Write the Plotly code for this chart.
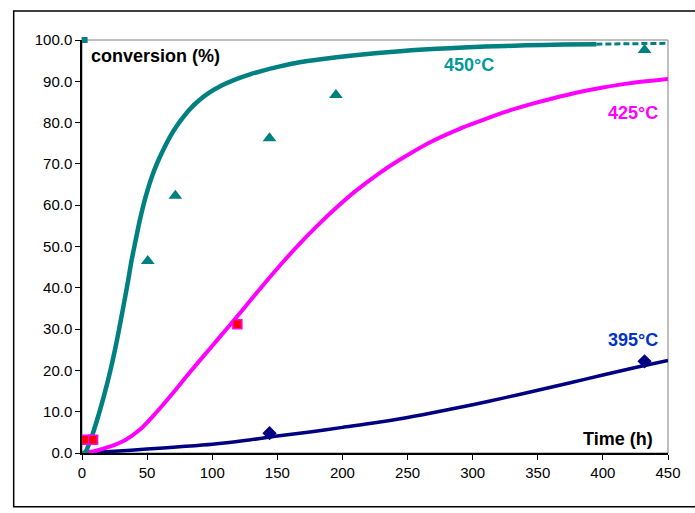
import plotly.graph_objects as go

# Model curves (conversion %, vs time in hours)
t_450 = [0, 2, 7, 13, 17, 21.8, 25, 28.2, 31.5, 35, 38, 41, 44, 47, 50, 54, 58, 63, 68, 72, 77, 83, 90, 98, 108, 119, 129, 139, 152, 167, 185, 206, 225, 244, 262, 282, 310, 341, 370, 395]
c_450 = [0, 0, 3.5, 9.5, 14, 20, 24.5, 29.5, 35, 41, 46.5, 51.2, 55.8, 59.8, 63.3, 67.2, 70.4, 73.8, 76.8, 78.8, 81.0, 83.3, 85.4, 87.3, 89.1, 90.6, 91.7, 92.6, 93.6, 94.6, 95.4, 96.2, 96.8, 97.3, 97.7, 98.0, 98.4, 98.7, 98.9, 99.0]
t_450_tail = [395, 420, 450]
c_450_tail = [99.0, 99.1, 99.2]

t_425 = [0, 10, 20, 33, 45, 57, 70, 83, 98, 112, 125, 140, 152, 164, 180, 195, 210, 229, 244, 267, 290, 305, 325, 344, 362, 382, 400, 420, 452]
c_425 = [0, 0.5, 1.4, 3.1, 5.8, 9.8, 14.6, 19.6, 25.2, 30.4, 35.3, 41.0, 45.4, 49.6, 54.8, 59.3, 63.4, 67.9, 71.0, 75.2, 78.5, 80.3, 82.6, 84.4, 85.9, 87.4, 88.5, 89.5, 90.6]

t_395 = [0, 25, 50, 75, 100, 125, 150, 175, 200, 225, 250, 275, 300, 325, 350, 375, 400, 425, 450]
c_395 = [0, 0.45, 0.95, 1.5, 2.1, 3.0, 4.1, 5.1, 6.2, 7.3, 8.6, 10.1, 11.7, 13.4, 15.2, 17.0, 18.9, 20.7, 22.4]

# Measured points
t_450_pts = [50.5, 71.7, 144, 195, 432]
c_450_pts = [46.5, 62.3, 76.2, 86.7, 97.6]
t_450_top = [2]
c_450_top = [100]
t_425_pts = [3, 8.5, 119.3]
c_425_pts = [3.2, 3.2, 31.2]
t_395_pts = [144, 432]
c_395_pts = [4.8, 22.2]

x_ticks = [0, 50, 100, 150, 200, 250, 300, 350, 400, 450]
y_ticks = [0, 10, 20, 30, 40, 50, 60, 70, 80, 90, 100]

TEAL = "#008080"
MAGENTA = "#FF00FF"
NAVY = "#000080"

fig = go.Figure()

fig.add_trace(go.Scatter(x=t_395, y=c_395, mode="lines",
                         line=dict(color=NAVY, width=3.5, shape="spline", smoothing=0.8),
                         showlegend=False))
fig.add_trace(go.Scatter(x=t_425, y=c_425, mode="lines",
                         line=dict(color=MAGENTA, width=4, shape="spline", smoothing=0.8),
                         showlegend=False))
fig.add_trace(go.Scatter(x=t_450, y=c_450, mode="lines",
                         line=dict(color=TEAL, width=4.5, shape="spline", smoothing=0.8),
                         showlegend=False))
fig.add_trace(go.Scatter(x=t_450_tail, y=c_450_tail, mode="lines",
                         line=dict(color=TEAL, width=3, dash="6px,3px"), showlegend=False))

fig.add_trace(go.Scatter(x=t_450_pts, y=c_450_pts, mode="markers",
                         marker=dict(symbol="triangle-up", size=12, color=TEAL), showlegend=False))
fig.add_trace(go.Scatter(x=t_450_top, y=c_450_top, mode="markers",
                         marker=dict(symbol="square", size=6, color=TEAL), showlegend=False,
                         cliponaxis=False))
fig.add_trace(go.Scatter(x=t_425_pts, y=c_425_pts, mode="markers",
                         marker=dict(symbol="square", size=9, color="#FF0000",
                                     line=dict(color=MAGENTA, width=1.5)), showlegend=False))
fig.add_trace(go.Scatter(x=t_395_pts, y=c_395_pts, mode="markers",
                         marker=dict(symbol="diamond", size=11, color=NAVY), showlegend=False))

FONT = "Liberation Sans, Arial, sans-serif"
label_font = dict(family=FONT, size=18)

annotations = [
    dict(x=0.012, y=0.962, xref="paper", yref="paper", text="<b>conversion (%)</b>",
         showarrow=False, xanchor="left", yanchor="middle", font=dict(label_font, color="#000000")),
    dict(x=0.977, y=0.034, xref="paper", yref="paper", text="<b>Time (h)</b>",
         showarrow=False, xanchor="right", yanchor="middle", font=dict(label_font, color="#000000")),
    dict(x=0.661, y=0.94, xref="paper", yref="paper", text="<b>450°C</b>",
         showarrow=False, xanchor="center", yanchor="middle", font=dict(label_font, color="#009999")),
    dict(x=0.986, y=0.823, xref="paper", yref="paper", text="<b>425°C</b>",
         showarrow=False, xanchor="right", yanchor="middle", font=dict(label_font, color=MAGENTA)),
    dict(x=0.986, y=0.273, xref="paper", yref="paper", text="<b>395°C</b>",
         showarrow=False, xanchor="right", yanchor="middle", font=dict(label_font, color="#0033CC")),
]

shapes = [
    # gray frame of the plotting area
    dict(type="rect", xref="paper", yref="paper", x0=0, y0=0, x1=1, y1=1,
         line=dict(color="#808080", width=1), layer="below"),
    # outer chart border
    dict(type="rect", xref="paper", yref="paper", x0=-0.1166, y0=-0.130, x1=1.1, y1=1.070,
         line=dict(color="#000000", width=1.5)),
]

fig.update_layout(
    width=695, height=513,
    margin=dict(l=82, r=27, t=40, b=60),
    paper_bgcolor="white", plot_bgcolor="white",
    font=dict(family=FONT, size=15, color="#000000"),
    annotations=annotations,
    shapes=shapes,
    xaxis=dict(range=[0, 450], tickvals=x_ticks, ticks="outside", ticklen=5, tickcolor="#000000",
               showgrid=False, zeroline=False, showline=True, linecolor="#000000", linewidth=1.5,
               tickfont=dict(size=15)),
    yaxis=dict(range=[0, 100], tickvals=y_ticks, tickformat=".1f", ticks="outside", ticklen=5,
               tickcolor="#000000", showgrid=False, zeroline=False, showline=True,
               linecolor="#000000", linewidth=1.5, tickfont=dict(size=15)),
)

fig.write_html("out.html")
